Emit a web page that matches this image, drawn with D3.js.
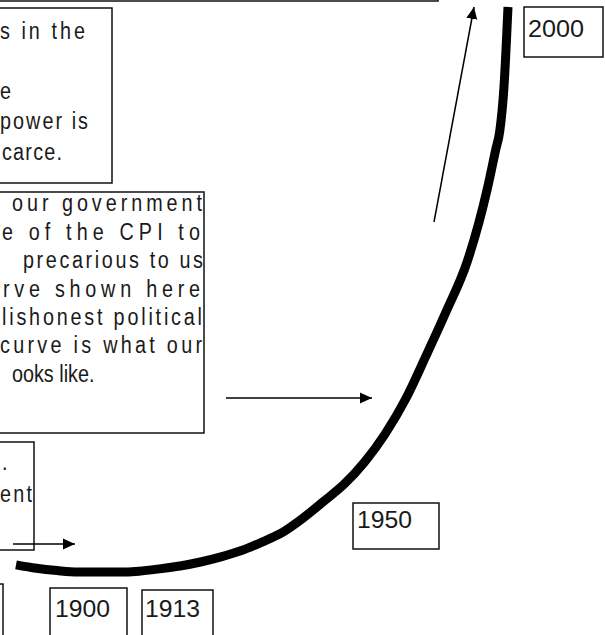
<!DOCTYPE html>
<html>
<head>
<meta charset="utf-8">
<script src="https://cdn.jsdelivr.net/npm/d3@7"></script>
<style>
  html, body { margin: 0; padding: 0; background: #fff; }
  svg { display: block; }
  text { font-family: "Liberation Sans", Arial, sans-serif; fill: #1a1a1a; }
</style>
</head>
<body>
<div id="chart"></div>
<script>
// Constants for the plot
const PLOT_WIDTH = 605;
const PLOT_HEIGHT = 635;
const NARROW = 0.86; // the original font is narrower than Arial

// CPI curve (index, 2000 = 100)
const years = [1880, 1885, 1890, 1895, 1900, 1905, 1910, 1915, 1920, 1925, 1930, 1935, 1940, 1945, 1950, 1955, 1960, 1965, 1970, 1975, 1980, 1985, 1990, 1995, 1997, 1998, 1999, 2000];
const cpiIndex = [2.3, 1.7, 1.3, 1.05, 1.05, 1.05, 1.2, 1.6, 2.1, 2.8, 3.7, 4.8, 6.3, 8.0, 10.5, 13.4, 16.4, 20.3, 25.2, 31.3, 38.9, 46.8, 55.3, 68.3, 75.0, 78.3, 85.8, 100];

// year labels in boxes
const yearLabels = ["1900", "1913", "1950", "2000"];

// text fragments of the note boxes (the picture is cropped on the left)
const note1Lines = ["s in the", "", "e", "power is", "carce."];
const note2Lines = ["our government", "e of the CPI to", "precarious to us", "rve shown here", "lishonest political", "curve is what our", "ooks like."];
const note3Lines = [".", "ent"];

// layout of annotation boxes [x0, y0, x1, y1]
const yearBoxes = [[50, 588, 127, 640], [142, 590, 213, 640], [353, 503, 439, 549], [524, 7, 603, 57]];
const yearText = [[55, 617, 55], [145, 617, 55], [357, 528, 55], [528, 37, 56]];

const svg = d3.select("#chart").append("svg").attr("width", PLOT_WIDTH).attr("height", PLOT_HEIGHT);
svg.append("rect").attr("width", PLOT_WIDTH).attr("height", PLOT_HEIGHT).attr("fill", "#fff");

const defs = svg.append("defs");
defs.append("marker").attr("id", "head").attr("viewBox", "0 0 12 12").attr("refX", 12).attr("refY", 6)
  .attr("markerWidth", 12).attr("markerHeight", 12).attr("markerUnits", "userSpaceOnUse").attr("orient", "auto")
  .append("path").attr("d", "M0,0.5 L12,6 L0,11.5 Z").attr("fill", "#000");

// Scales
const xScale = d3.scaleLinear().domain([1880, 2000]).range([16, 508]);
const yScale = d3.scaleLinear().domain([0, 100]).range([578, 7]);

// boxes
function box(x0, y0, x1, y1) {
  svg.append("rect").attr("x", x0).attr("y", y0).attr("width", x1 - x0).attr("height", y1 - y0)
    .attr("fill", "none").attr("stroke", "#111").attr("stroke-width", 1.5);
}
box(-10, -60, 438, 1);
box(-10, 8, 112, 183);
box(-10, 192, 204, 433);
box(-10, 442, 34, 550);
box(-10, 584, 3, 640);
yearBoxes.forEach(b => box(b[0], b[1], b[2], b[3]));

// text lines, narrow glyphs, stretched like justified text
function lines(data, xs, ys, lens, size) {
  data.forEach((t, i) => {
    if (!t) return;
    const el = svg.append("text").attr("transform", `translate(${xs[i]},${ys[i]}) scale(${NARROW},1)`)
      .attr("font-size", size).text(t);
    if (lens[i]) el.attr("textLength", lens[i] / NARROW).attr("lengthAdjust", "spacing");
  });
}
lines(note1Lines, [0, 0, 0, 0, 2], [39, 69, 99, 129, 160], [85, 0, 10, 88, 60], 23);
lines(note2Lines, [12, 2, 23, 3, 2, 0, 12], [211, 240, 268, 297, 325, 353, 382], [190, 198, 180, 197, 200, 202, 0], 23);
lines(note3Lines, [2, 0], [470, 502], [0, 32], 23);

yearLabels.forEach((t, i) => {
  svg.append("text").attr("x", yearText[i][0]).attr("y", yearText[i][1]).attr("font-size", 23)
    .attr("textLength", yearText[i][2]).attr("lengthAdjust", "spacingAndGlyphs").text(t);
});

// arrows
function arrow(x1, y1, x2, y2) {
  svg.append("line").attr("x1", x1).attr("y1", y1).attr("x2", x2).attr("y2", y2)
    .attr("stroke", "#000").attr("stroke-width", 1.5).attr("marker-end", "url(#head)");
}
arrow(13, 544, 75, 544);
arrow(226, 398, 372, 398);
arrow(434, 222, 474, 7);

// the CPI curve
const line = d3.line().curve(d3.curveMonotoneX).x((d, i) => xScale(years[i])).y(d => yScale(d));
svg.append("path").datum(cpiIndex).attr("d", line).attr("fill", "none")
  .attr("stroke", "#000").attr("stroke-width", 9).attr("stroke-linecap", "butt");
</script>
</body>
</html>
